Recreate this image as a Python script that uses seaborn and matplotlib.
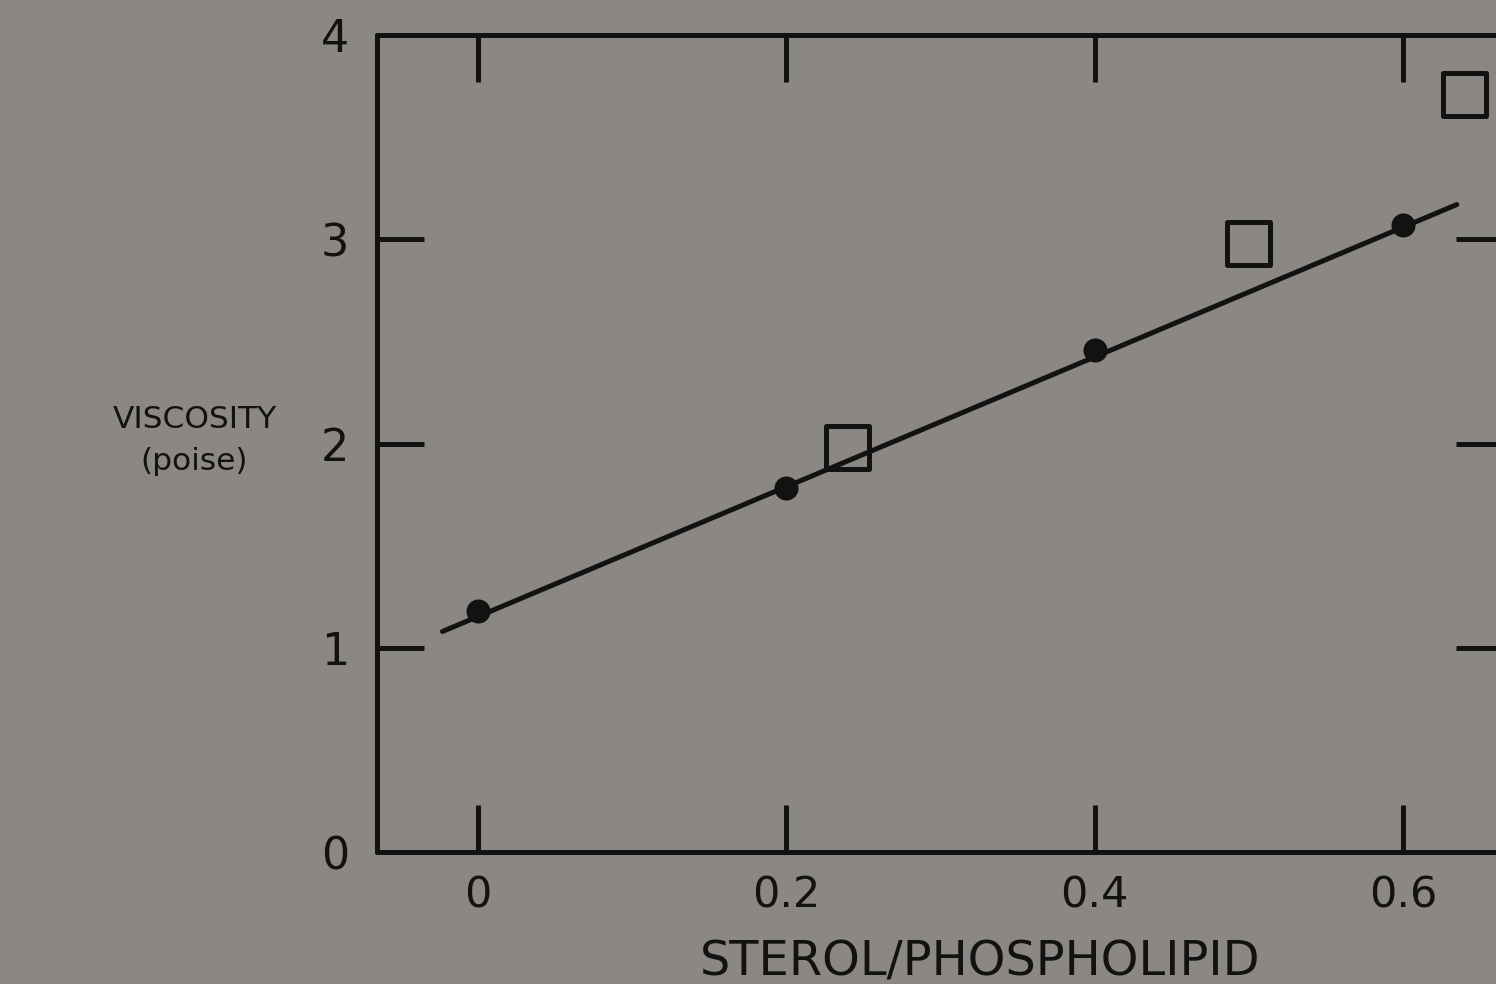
import matplotlib
matplotlib.use("Agg")
import matplotlib.pyplot as plt
import seaborn as sns
import pandas as pd

# Sterol/phospholipid ratio vs. membrane viscosity
ratio_filled = [0.0, 0.2, 0.4, 0.6]
visc_filled = [1.18, 1.78, 2.46, 3.07]

ratio_open = [0.24, 0.50, 0.64]
visc_open = [1.98, 2.98, 3.71]

# regression line end points
fit_ratio = [-0.023, 0.635]
fit_visc = [1.08, 3.17]

x_ticks = [0.0, 0.2, 0.4, 0.6]
x_tick_labels = ["0", "0.2", "0.4", "0.6"]
y_ticks = [0, 1, 2, 3, 4]
y_tick_labels = ["0", "1", "2", "3", "4"]

bg = "#8b8883"
ink = "#121212"

sns.set_theme(style="ticks")
plt.rcParams["font.family"] = ["DejaVu Sans"]
plt.rcParams["lines.solid_capstyle"] = "round"

fig = plt.figure(figsize=(14.96, 9.84), dpi=100, facecolor=bg)
ax = fig.add_axes([0.252, 0.1341, 0.7527, 0.8303])
ax.set_facecolor(bg)

df_fit = pd.DataFrame({"ratio": fit_ratio, "visc": fit_visc})
df_filled = pd.DataFrame({"ratio": ratio_filled, "visc": visc_filled})
df_open = pd.DataFrame({"ratio": ratio_open, "visc": visc_open})

sns.lineplot(data=df_fit, x="ratio", y="visc", ax=ax, color=ink,
             linewidth=3.6, solid_capstyle="round", sort=False, zorder=2)
sns.scatterplot(data=df_filled, x="ratio", y="visc", ax=ax, marker="o",
                s=300, color=ink, edgecolor=ink, linewidth=0, zorder=3)
sns.scatterplot(data=df_open, x="ratio", y="visc", ax=ax, marker="s",
                s=31 ** 2, facecolor="none", edgecolor=ink, linewidth=3.6,
                zorder=3, clip_on=False)

ax.set_xlim(-0.0655, 0.665)
ax.set_ylim(0, 4)

ax.set_xticks(x_ticks)
ax.set_xticklabels(x_tick_labels)
ax.set_yticks(y_ticks)
ax.set_yticklabels(y_tick_labels)

ax.tick_params(axis="both", direction="in", length=34, width=3.6,
               color=ink, labelcolor=ink, top=True, right=True)
ax.tick_params(axis="x", labelsize=31, pad=16)
ax.tick_params(axis="y", labelsize=32, pad=20)

for side in ["left", "right", "top", "bottom"]:
    ax.spines[side].set_visible(True)
    ax.spines[side].set_color(ink)
    ax.spines[side].set_linewidth(3.6)
    ax.spines[side].set_capstyle("round")

ax.set_xlabel("STEROL/PHOSPHOLIPID", fontsize=34.5, color=ink)
ax.xaxis.set_label_coords(0.536, -0.106)

ax.set_ylabel("VISCOSITY\n(poise)", fontsize=22.5, color=ink,
              rotation=0, ha="center", va="center",
              multialignment="center", linespacing=1.55)
ax.yaxis.set_label_coords(-0.162, 0.504)

fig.savefig("out.png", dpi=100, facecolor=bg)
